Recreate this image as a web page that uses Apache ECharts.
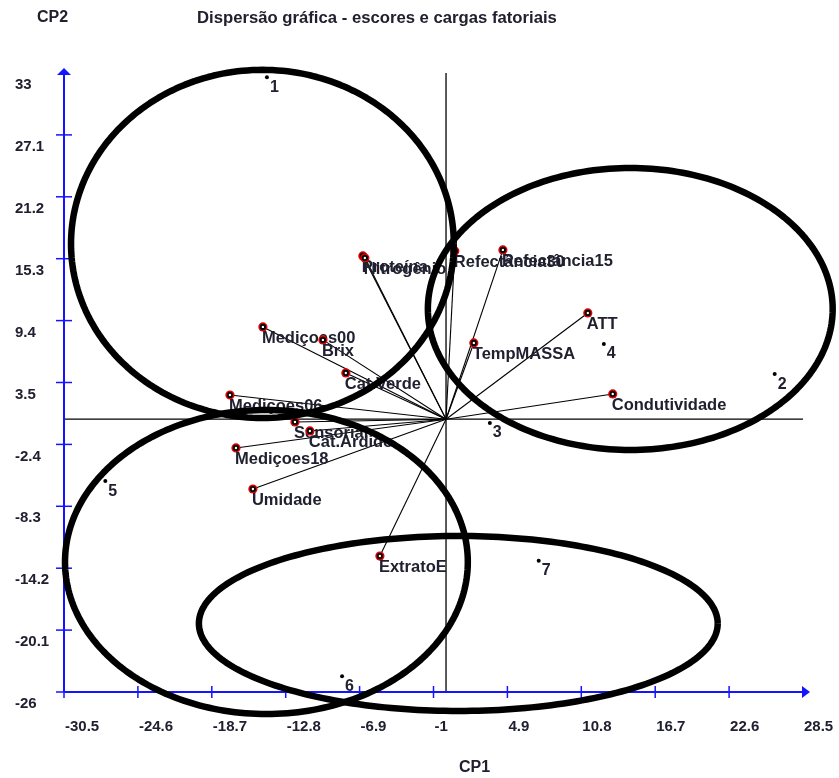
<!DOCTYPE html>
<html>
<head>
<meta charset="utf-8">
<script src="https://cdn.jsdelivr.net/npm/echarts@6/dist/echarts.min.js"></script>
<style>
  html, body { margin: 0; padding: 0; background: #ffffff; }
  #chart { width: 839px; height: 778px; }
</style>
</head>
<body>
<div id="chart"></div>
<script>
// Tick values of the two principal-component axes
const xTicks = [-30.5, -24.6, -18.7, -12.8, -6.9, -1, 4.9, 10.8, 16.7, 22.6, 28.5];
const yTicks = [-26, -20.1, -14.2, -8.3, -2.4, 3.5, 9.4, 15.3, 21.2, 27.1, 33];

// Sample scores (CP1, CP2)
const scoreLabels = ['1', '2', '3', '4', '5', '6', '7'];
const scoreX = [-14.3, 26.24, 3.5, 12.6, -27.2, -8.3, 7.4];
const scoreY = [32.6, 4.3, -0.36, 7.17, -5.9, -24.5, -13.5];

// Variable loadings (CP1, CP2)
const loadingNames = ['Proteína', 'Nitrogênio', 'Refectância30', 'Refectância15', 'ATT', 'TempMASSA',
  'Condutividade', 'Mediçoes00', 'Brix', 'Cat.Verde', 'Mediçoes06', 'Sensorial', 'Cat.Ardido',
  'Mediçoes18', 'Umidade', 'ExtratoE'];
const loadingX = [-6.64, -6.48, 0.7, 4.54, 11.32, 2.22, 13.31, -14.62, -9.83, -8.0, -17.25, -12.06, -10.87,
  -16.77, -15.42, -5.28];
const loadingY = [15.56, 15.37, 16.04, 16.14, 10.13, 7.27, 2.41, 8.8, 7.56, 4.41, 2.31, -0.26, -1.12,
  -2.74, -6.65, -13.04];

// Group outlines: centre and half-axes in axis units
const groupCX = [-14.66, 14.71, -14.34, 0.98];
const groupCY = [16.71, 10.51, -13.61, -19.47];
const groupRX = [15.28, 16.16, 16.08, 20.71];
const groupRY = [16.59, 13.44, 14.49, 8.34];

const X_MIN = -30.5, X_MAX = 28.5, Y_MIN = -26, Y_MAX = 33;
const BLUE = '#1414ff';
const INK = '#202030';
const FONT = '"Liberation Sans", Arial, sans-serif';

const chart = echarts.init(document.getElementById('chart'), null, { renderer: 'canvas' });

function lineEl(p1, p2, stroke, width) {
  return {
    type: 'line',
    shape: { x1: p1[0], y1: p1[1], x2: p2[0], y2: p2[1] },
    style: { stroke: stroke, lineWidth: width }
  };
}

// Blue axes with crossing ticks, arrow heads and tick labels
function renderAxes(params, api) {
  const children = [];
  const o = api.coord([X_MIN, Y_MIN]);
  const xr = api.coord([X_MAX, Y_MIN]);
  const yt = api.coord([X_MIN, Y_MAX]);
  children.push(lineEl(o, [xr[0] + 4, xr[1]], BLUE, 2));
  children.push(lineEl(o, [yt[0], yt[1] - 3], BLUE, 2));
  xTicks.forEach(function (v) {
    const p = api.coord([v, Y_MIN]);
    if (v !== X_MAX) children.push(lineEl([p[0], p[1] - 6], [p[0], p[1] + 6], BLUE, 1.5));
    children.push({
      type: 'text',
      style: { text: String(v), x: p[0] + 1, y: p[1] + 35, font: 'bold 15px ' + FONT, fill: INK,
        align: 'left', verticalAlign: 'middle' }
    });
  });
  yTicks.forEach(function (v) {
    const p = api.coord([X_MIN, v]);
    if (v !== Y_MAX) children.push(lineEl([p[0] - 8, p[1]], [p[0] + 8, p[1]], BLUE, 1.5));
    children.push({
      type: 'text',
      style: { text: String(v), x: 15, y: p[1] + 12, font: 'bold 15px ' + FONT, fill: INK,
        align: 'left', verticalAlign: 'middle' }
    });
  });
  // arrow heads
  children.push({
    type: 'polygon',
    shape: { points: [[xr[0] + 7, xr[1]], [xr[0] - 1, xr[1] - 6], [xr[0] - 1, xr[1] + 6]] },
    style: { fill: BLUE }
  });
  children.push({
    type: 'polygon',
    shape: { points: [[yt[0], yt[1] - 5], [yt[0] - 7, yt[1] + 2], [yt[0] + 7, yt[1] + 2]] },
    style: { fill: BLUE }
  });
  return { type: 'group', children: children };
}

// Reference lines through the origin
function renderCross(params, api) {
  return {
    type: 'group',
    children: [
      lineEl(api.coord([X_MIN, 0]), api.coord([X_MAX, 0]), '#000', 1.3),
      lineEl(api.coord([0, Y_MIN]), api.coord([0, Y_MAX]), '#000', 1.3)
    ]
  };
}

const loadingData = loadingNames.map(function (n, i) { return [loadingX[i], loadingY[i], n]; });
const scoreData = scoreLabels.map(function (n, i) { return [scoreX[i], scoreY[i], n]; });
const groupData = groupCX.map(function (c, i) { return [groupCX[i], groupCY[i], groupRX[i], groupRY[i]]; });

const option = {
  animation: false,
  backgroundColor: '#ffffff',
  grid: { left: 64, right: 36, top: 73, bottom: 86 },
  xAxis: { type: 'value', min: X_MIN, max: X_MAX, show: false },
  yAxis: { type: 'value', min: Y_MIN, max: Y_MAX, show: false },
  graphic: [
    { type: 'text', left: 37, top: 10, style: { text: 'CP2', font: 'bold 16px ' + FONT, fill: INK } },
    { type: 'text', left: 197, top: 10,
      style: { text: 'Dispersão gráfica - escores e cargas fatoriais', font: 'bold 16.7px ' + FONT, fill: INK } },
    { type: 'text', left: 459, top: 760, style: { text: 'CP1', font: 'bold 16px ' + FONT, fill: INK } }
  ],
  series: [
    {
      type: 'custom', name: 'eixos', z: 1, data: [[0, 0]],
      renderItem: renderCross, silent: true
    },
    {
      type: 'custom', name: 'vetores', z: 2, data: loadingData,
      renderItem: function (params, api) {
        const o = api.coord([0, 0]);
        const p = api.coord([api.value(0), api.value(1)]);
        return lineEl(o, p, '#000', 1.1);
      }
    },
    {
      type: 'custom', name: 'escala', z: 3, data: [[0, 0]],
      renderItem: renderAxes, silent: true
    },
    {
      type: 'custom', name: 'escores', z: 4, data: scoreData,
      renderItem: function (params, api) {
        const p = api.coord([api.value(0), api.value(1)]);
        return {
          type: 'group',
          children: [
            { type: 'circle', shape: { cx: p[0], cy: p[1], r: 2 }, style: { fill: '#000' } },
            { type: 'text', style: { text: scoreLabels[params.dataIndex], x: p[0] + 3, y: p[1] + 2,
              font: 'bold 16px ' + FONT, fill: INK, align: 'left', verticalAlign: 'top' } }
          ]
        };
      }
    },
    {
      type: 'custom', name: 'cargas', z: 4, data: loadingData,
      renderItem: function (params, api) {
        const p = api.coord([api.value(0), api.value(1)]);
        return {
          type: 'group',
          children: [
            { type: 'circle', shape: { cx: p[0], cy: p[1], r: 4.6 }, style: { fill: '#e00000' } },
            { type: 'circle', shape: { cx: p[0], cy: p[1], r: 3.1 }, style: { fill: '#000' } },
            { type: 'circle', shape: { cx: p[0], cy: p[1], r: 1.2 }, style: { fill: '#fff' } },
            { type: 'text', style: { text: loadingNames[params.dataIndex], x: p[0] - 1, y: p[1] + 3,
              font: 'bold 16.5px ' + FONT, fill: INK, align: 'left', verticalAlign: 'top' } }
          ]
        };
      }
    },
    {
      type: 'custom', name: 'grupos', z: 6, data: groupData,
      renderItem: function (params, api) {
        const cx = api.value(0), cy = api.value(1), rx = api.value(2), ry = api.value(3);
        const pts = [];
        for (let k = 0; k <= 240; k++) {
          const t = (k / 240) * Math.PI * 2;
          pts.push(api.coord([cx + rx * Math.cos(t), cy + ry * Math.sin(t)]));
        }
        return {
          type: 'polyline',
          shape: { points: pts },
          style: { stroke: '#000', lineWidth: 6.5, fill: null, lineJoin: 'round' }
        };
      }
    }
  ]
};

chart.setOption(option);
</script>
</body>
</html>
